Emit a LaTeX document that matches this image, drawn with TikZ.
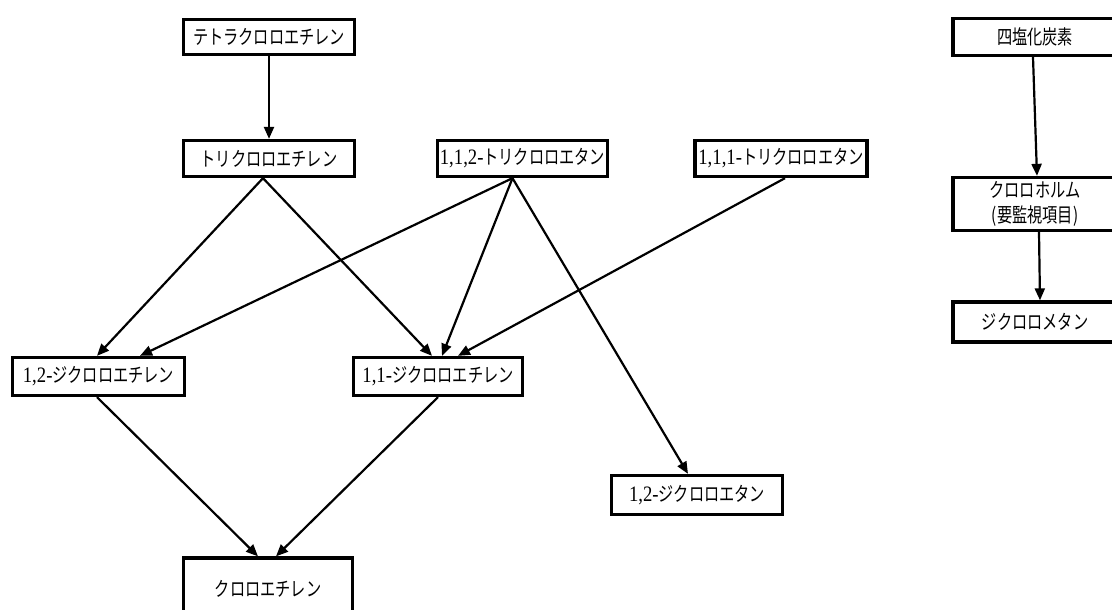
\documentclass[tikz,border=0pt]{standalone}
\usepackage{fontspec}
\newfontfamily\jp[FakeStretch=0.76]{Noto Sans CJK JP}
\newfontfamily\lat[FakeStretch=0.85]{Liberation Serif}
\newcommand{\num}[1]{{\lat\fontsize{22}{25}\selectfont #1}}
\usetikzlibrary{arrows.meta,calc}
\begin{document}
\begin{tikzpicture}[x=1pt,y=-1pt,
  box/.style={draw, line width=3.3pt, inner sep=0pt, align=center,
    font=\jp\fontsize{20}{25}\selectfont},
  arr/.style={line width=2.2pt, -{Triangle[length=12pt,width=10pt]}}]
\useasboundingbox (0,0) rectangle (1112,610);
\clip (0,0) rectangle (1112,610);
\fill[white] (0,0) rectangle (1112,610);
% left graph
\node[box, minimum width=171pt, minimum height=35pt] (tetra) at (269,37) {テトラクロロエチレン};
\node[box, minimum width=171pt, minimum height=36pt] (tri) at (269,158.5) {トリクロロエチレン};
\node[box, minimum width=170pt, minimum height=36pt] (t112) at (522.5,158.5) {\num{1,1,2-}トリクロロエタン};
\node[box, minimum width=172pt, minimum height=36pt] (t111) at (781,158.5) {\num{1,1,1-}トリクロロエタン};
\node[box, minimum width=172pt, minimum height=38pt] (d12e) at (98.5,376.5) {\num{1,2-}ジクロロエチレン};
\node[box, minimum width=169pt, minimum height=38pt] (d11e) at (438,376.5) {\num{1,1-}ジクロロエチレン};
\node[box, minimum width=171pt, minimum height=39pt] (d12a) at (697,495) {\num{1,2-}ジクロロエタン};
\node[box, minimum width=169pt, minimum height=62pt] (vc) at (268,589) {クロロエチレン};
% right chain
\node[box, minimum width=164pt, minimum height=37pt] (ctc) at (1035,37) {四塩化炭素};
\node[box, minimum width=164pt, minimum height=53pt] (chcl) at (1035,204) {クロロホルム\\(要監視項目)};
\node[box, minimum width=164pt, minimum height=40pt] (dcm) at (1035,322) {ジクロロメタン};
% connectors
\draw[arr] (tetra.south) -- (tri.north);
\draw[arr] ([xshift=-6pt]tri.south) -- ([xshift=-1.5pt]d12e.north);
\draw[arr] ([xshift=-6pt]tri.south) -- ([xshift=-6pt]d11e.north);
\draw[arr] ([xshift=-10pt]t112.south) -- ([xshift=41.5pt]d12e.north);
\draw[arr] ([xshift=-10pt]t112.south) -- ([xshift=4pt]d11e.north);
\draw[arr] ([xshift=-10pt]t112.south) -- ([xshift=-9pt]d12a.north);
\draw[arr] ([xshift=4pt]t111.south) -- ([xshift=20pt]d11e.north);
\draw[arr] ([xshift=-1.5pt]d12e.south) -- ([xshift=-10pt]vc.north);
\draw[arr] (d11e.south) -- ([xshift=8pt]vc.north);
\draw[arr] ([xshift=-2pt]ctc.south) -- ([xshift=2pt]chcl.north);
\draw[arr] ([xshift=4pt]chcl.south) -- ([xshift=5pt]dcm.north);
\end{tikzpicture}
\end{document}
